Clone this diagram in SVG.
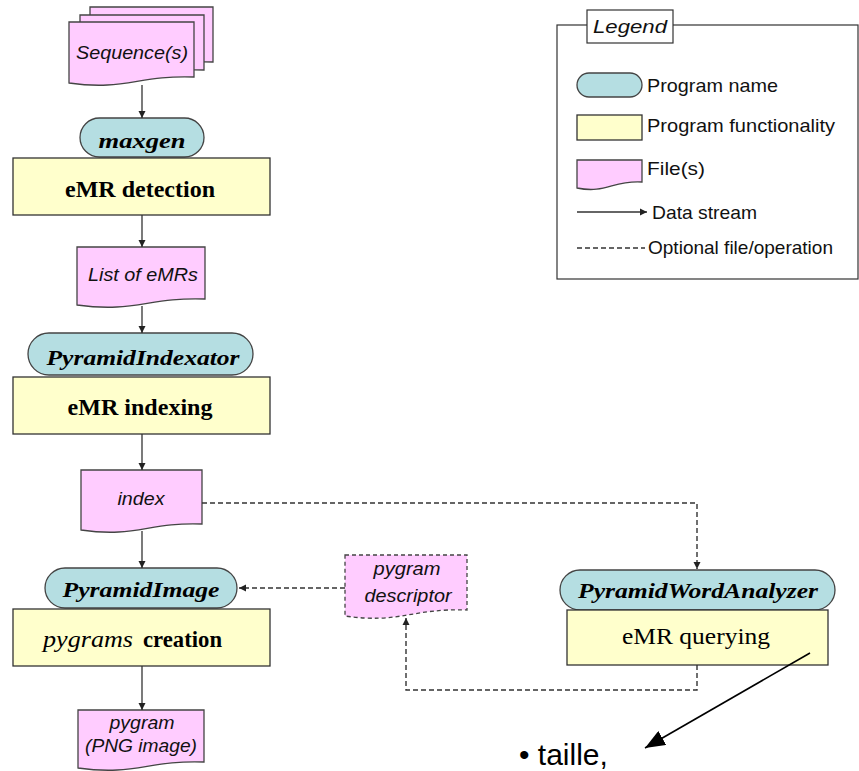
<svg xmlns="http://www.w3.org/2000/svg" width="859" height="771" viewBox="0 0 859 771">
<style>
.doc{fill:#FFCCFF;stroke:#444;stroke-width:1.3}
.pill{fill:#B5DEE2;stroke:#444;stroke-width:1.3}
.box{fill:#FFFFCC;stroke:#333;stroke-width:1.3}
.ft{font-family:"Liberation Sans",Arial,sans-serif;font-style:italic;font-size:19px;fill:#111;text-anchor:middle}
.pt{font-family:"Liberation Serif","Times New Roman",serif;font-style:italic;font-weight:bold;font-size:22px;fill:#000;text-anchor:middle}
.bt{font-family:"Liberation Serif","Times New Roman",serif;font-size:24px;fill:#000;text-anchor:middle}
.lt{font-family:"Liberation Sans",Arial,sans-serif;font-size:19px;fill:#111}
.con{fill:none;stroke:#333;stroke-width:1.3}
.dash{fill:none;stroke:#333;stroke-width:1.4;stroke-dasharray:5 3}
</style>
<defs>
<marker id="ah" markerWidth="8" markerHeight="8" refX="7" refY="4" orient="auto" markerUnits="userSpaceOnUse">
<path d="M0,0.5 L7,4 L0,7.5 Z" fill="#222"/>
</marker>
<marker id="big" markerWidth="22" markerHeight="16" refX="20" refY="8" orient="auto" markerUnits="userSpaceOnUse">
<path d="M0,0 L20,8 L0,16 Z" fill="#000"/>
</marker>
</defs>

<g id="legend">
<rect x="557" y="25" width="301" height="254" fill="#fff" stroke="#333" stroke-width="1.2"/>
<rect x="587" y="10" width="86" height="33" fill="#fff" stroke="#333" stroke-width="1.2"/>
<text class="ft" x="630" y="33" font-size="20" textLength="74" lengthAdjust="spacingAndGlyphs">Legend</text>
<rect class="pill" x="577" y="73" width="65" height="24" rx="12"/>
<text class="lt" x="647" y="92" textLength="131" lengthAdjust="spacingAndGlyphs">Program name</text>
<rect class="box" x="577" y="115" width="65" height="25"/>
<text class="lt" x="647" y="132" textLength="188" lengthAdjust="spacingAndGlyphs">Program functionality</text>
<path class="doc" d="M577,160 H642 V182 C613,180 606,194 577,188 Z"/>
<text class="lt" x="647" y="175" textLength="58" lengthAdjust="spacingAndGlyphs">File(s)</text>
<line class="con" x1="577" y1="212" x2="647" y2="212" marker-end="url(#ah)"/>
<text class="lt" x="652" y="219" textLength="105" lengthAdjust="spacingAndGlyphs">Data stream</text>
<line class="dash" x1="577" y1="248" x2="645" y2="248" stroke-dasharray="4 3"/>
<text class="lt" x="648" y="254" textLength="185" lengthAdjust="spacingAndGlyphs">Optional file/operation</text>
</g>

<g id="sequences">
<path class="doc" d="M90,7 H213 V62 C158,60 145,76 90,68 Z"/>
<path class="doc" d="M80,15 H204 V70 C148,68 136,84 80,76 Z"/>
<path class="doc" d="M69,22 H194 V77 C138,75 125,91 69,83 Z"/>
<text class="ft" x="132" y="59" textLength="112" lengthAdjust="spacingAndGlyphs">Sequence(s)</text>
</g>

<g id="maxgen">
<rect class="pill" x="80" y="118" width="124" height="39" rx="19.5"/>
<text class="pt" x="142" y="148" textLength="87" lengthAdjust="spacingAndGlyphs">maxgen</text>
</g>

<g id="detection">
<rect class="box" x="13" y="158" width="257" height="57"/>
<text class="bt" x="140" y="197" font-weight="bold" textLength="150" lengthAdjust="spacingAndGlyphs">eMR detection</text>
</g>

<g id="list-emrs">
<path class="doc" d="M77,247 H205 V299 C148,297 135,313 77,305 Z"/>
<text class="ft" x="143" y="281" textLength="110" lengthAdjust="spacingAndGlyphs">List of eMRs</text>
</g>

<g id="pyramid-indexator">
<rect class="pill" x="28" y="333" width="225" height="42" rx="21"/>
<text class="pt" x="143" y="365" textLength="193" lengthAdjust="spacingAndGlyphs">PyramidIndexator</text>
</g>

<g id="indexing">
<rect class="box" x="13" y="377" width="257" height="57"/>
<text class="bt" x="140" y="415" font-weight="bold" textLength="145" lengthAdjust="spacingAndGlyphs">eMR indexing</text>
</g>

<g id="index">
<path class="doc" d="M81,470 H202 V524 C148,522 136,538 81,530 Z"/>
<text class="ft" x="141" y="505" textLength="47" lengthAdjust="spacingAndGlyphs">index</text>
</g>

<g id="pyramid-image">
<rect class="pill" x="45" y="568" width="192" height="40" rx="20"/>
<text class="pt" x="141" y="597" textLength="157" lengthAdjust="spacingAndGlyphs">PyramidImage</text>
</g>

<g id="creation">
<rect class="box" x="13" y="609" width="257" height="57"/>
<text x="43" y="647" font-family="'Liberation Serif','Times New Roman',serif" font-size="24" fill="#000"><tspan font-style="italic" textLength="90" lengthAdjust="spacingAndGlyphs">pygrams</tspan><tspan x="143" font-weight="bold" textLength="79" lengthAdjust="spacingAndGlyphs">creation</tspan></text>
</g>

<g id="pygram-png">
<path class="doc" d="M78,710 H204 V762 C148,760 135,776 78,768 Z"/>
<text class="ft" x="142" y="729" textLength="65" lengthAdjust="spacingAndGlyphs">pygram</text>
<text class="ft" x="141" y="752" textLength="112" lengthAdjust="spacingAndGlyphs">(PNG image)</text>
</g>

<g id="pygram-descriptor">
<path class="doc" d="M345,555 H467 V610 C412,608 400,624 345,616 Z" stroke-dasharray="4 3"/>
<text class="ft" x="407" y="575" textLength="67" lengthAdjust="spacingAndGlyphs">pygram</text>
<text class="ft" x="408" y="602" textLength="87" lengthAdjust="spacingAndGlyphs">descriptor</text>
</g>

<g id="pyramid-word-analyzer">
<rect class="pill" x="560" y="570" width="275" height="40" rx="20"/>
<text class="pt" x="698" y="598" textLength="240" lengthAdjust="spacingAndGlyphs">PyramidWordAnalyzer</text>
</g>

<g id="querying">
<rect class="box" x="567" y="610" width="261" height="55"/>
<text class="bt" x="696" y="644" textLength="148" lengthAdjust="spacingAndGlyphs">eMR querying</text>
</g>

<g id="note">
<text x="519" y="765" font-family="'Liberation Sans',Arial,sans-serif" font-size="30" fill="#000">• taille,</text>
</g>

<g id="connectors">
<line class="con" x1="142" y1="85" x2="142" y2="118" marker-end="url(#ah)"/>
<line class="con" x1="142" y1="215" x2="142" y2="247" marker-end="url(#ah)"/>
<line class="con" x1="142" y1="306" x2="142" y2="333" marker-end="url(#ah)"/>
<line class="con" x1="142" y1="434" x2="142" y2="470" marker-end="url(#ah)"/>
<line class="con" x1="142" y1="531" x2="142" y2="568" marker-end="url(#ah)"/>
<line class="con" x1="142" y1="666" x2="142" y2="710" marker-end="url(#ah)"/>
<polyline class="dash" points="202,503 697,503 697,569" marker-end="url(#ah)"/>
<line class="dash" x1="345" y1="588" x2="239" y2="588" marker-end="url(#ah)"/>
<polyline class="dash" points="697,665 697,690 406,690 406,618" marker-end="url(#ah)"/>
<line x1="810" y1="653" x2="645" y2="748" stroke="#000" stroke-width="1.6" marker-end="url(#big)"/>
</g>
</svg>
